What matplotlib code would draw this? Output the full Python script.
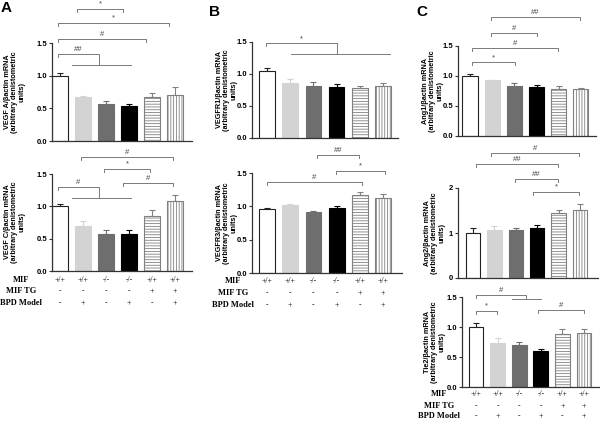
import matplotlib
matplotlib.use("Agg")
import matplotlib.pyplot as plt
import matplotlib.transforms as mtransforms

plt.rcParams['font.family'] = ['Liberation Sans', 'DejaVu Sans']
plt.rcParams['hatch.linewidth'] = 0.6

# ---- data ----
vegfa = [1.00, 0.67, 0.57, 0.53, 0.68, 0.71]
vegfa_err = [0.04, 0.02, 0.04, 0.04, 0.06, 0.11]
vegfc = [1.00, 0.70, 0.57, 0.57, 0.85, 1.09]
vegfc_err = [0.04, 0.08, 0.07, 0.06, 0.09, 0.09]
vegfr1 = [1.04, 0.86, 0.82, 0.79, 0.78, 0.81]
vegfr1_err = [0.05, 0.06, 0.05, 0.05, 0.04, 0.05]
vegfr3 = [0.96, 1.02, 0.91, 0.97, 1.17, 1.13]
vegfr3_err = [0.02, 0.01, 0.02, 0.04, 0.05, 0.06]
ang1 = [1.00, 0.93, 0.84, 0.81, 0.79, 0.78]
ang1_err = [0.03, 0.01, 0.04, 0.04, 0.04, 0.02]
ang2 = [1.00, 1.07, 1.06, 1.12, 1.45, 1.50]
ang2_err = [0.10, 0.08, 0.05, 0.06, 0.05, 0.14]
tie2 = [1.00, 0.74, 0.70, 0.60, 0.89, 0.90]
tie2_err = [0.07, 0.07, 0.05, 0.03, 0.08, 0.06]

mif = ['+/+', '+/+', '-/-', '-/-', '+/+', '+/+']
mif_tg = ['-', '-', '-', '-', '+', '+']
bpd = ['-', '+', '-', '+', '-', '+']
row_names = ['MIF', 'MIF TG', 'BPD Model']

# significance brackets: (label, x1, x2, y)
br_vegfa = [('*', 0.74, 2.74, 2.02), ('*', -0.09, 4.74, 1.81), ('#', -0.09, 3.74, 1.56)]
grp_vegfa = [('##', -0.09, 1.7, 1.33, 1.16, 0.52, 3.1)]
br_vegfc = [('#', 0.91, 4.91, 1.76), ('*', 1.91, 3.91, 1.58), ('#', 2.74, 4.91, 1.36)]
grp_vegfc = [('#', -0.09, 1.7, 1.30, 1.13, 0.52, 3.1)]
br_vegfr1 = []
grp_vegfr1 = [('*', -0.04, 3.0, 1.48, 1.31, 1.03, 5.3)]
br_vegfr3 = [('##', 2.16, 3.97, 1.77), ('*', 2.97, 5.09, 1.53), ('#', 0.0, 4.09, 1.36)]
br_ang1 = [('##', 0.95, 4.95, 1.98), ('#', 0.95, 3.0, 1.72), ('#', 0.09, 3.96, 1.47), ('*', 0.09, 2.03, 1.23)]
br_ang2 = [('#', 0.84, 4.95, 2.78), ('##', 0.14, 3.97, 2.53), ('##', 1.96, 3.97, 2.2), ('*', 2.8, 4.95, 1.91)]
br_tie2 = [('*', 0.0, 0.97, 1.27), ('#', 2.87, 5.0, 1.28)]
grp_tie2 = [('#', 0.0, 2.3, 1.53, 1.47, 1.67, 3.0)]

# ---- styling ----
FILL = ['white', '#d3d3d3', '#6e6e6e', 'black', 'white', 'white']
EDGE = ['#222222', '#d3d3d3', '#6e6e6e', 'black', '#808080', '#808080']
HATCH = [None, None, None, None, '------', '||||||']
BR_COLOR = '#7a7a7a'

W, H = 600, 421
fig = plt.figure(figsize=(6, 4.21), dpi=100)


def px_axes(l, t, r, b):
    return fig.add_axes([l / W, 1 - b / H, (r - l) / W, (b - t) / H])


def panel(box, xlim, ylim, yticks, yfmt, vals, errs, ylabel, ylab_xy,
          brackets=(), groups=()):
    ax = px_axes(*box)
    l, t, r, b = box
    for i, (v, e) in enumerate(zip(vals, errs)):
        ax.bar(i, v, width=0.68, color=FILL[i], edgecolor=EDGE[i],
               hatch=HATCH[i], linewidth=0.8, zorder=2)
        ax.errorbar(i, v, yerr=[[0], [e]], fmt='none', ecolor=EDGE[i],
                    elinewidth=0.8, capsize=2.2, capthick=0.8, zorder=1)
    ax.set_xlim(*xlim)
    ax.set_ylim(*ylim)
    ax.set_xticks([])
    ax.set_yticks(yticks)
    ax.set_yticklabels([yfmt.format(y) for y in yticks])
    for lab in ax.get_yticklabels():
        lab.set_fontweight('bold')
    ax.tick_params(axis='y', length=2.5, width=0.8, labelsize=5.5, pad=1,
                   color='#333333')
    for s in ['top', 'right']:
        ax.spines[s].set_visible(False)
    for s in ['left', 'bottom']:
        ax.spines[s].set_linewidth(0.9)
        ax.spines[s].set_color('#333333')

    unit = (ylim[1] - ylim[0]) / (b - t)  # data per pixel
    leg = 3 * unit
    kw = dict(color=BR_COLOR, lw=0.7, clip_on=False)
    for lab, x1, x2, y in brackets:
        ax.plot([x1, x1, x2, x2], [y - leg, y, y, y - leg], **kw)
        ax.text((x1 + x2) / 2, y + 1.2 * unit, lab, ha='center', va='bottom',
                fontsize=5.5, color='#444444', clip_on=False)
    for lab, x1, xm, yt, yl, xa, xb in groups:
        ax.plot([x1, x1, xm, xm], [yt - leg, yt, yt, yl], **kw)
        ax.plot([xa, xb], [yl, yl], **kw)
        ax.text((x1 + xm) / 2, yt + 1.2 * unit, lab, ha='center', va='bottom',
                fontsize=5.5, color='#444444', clip_on=False)

    fig.text(ylab_xy[0] / W, 1 - ylab_xy[1] / H,
             ylabel + '\n(arbitrary denistometric\nunits)',
             rotation=90, ha='center', va='center', ma='center',
             fontsize=5.2, fontweight='bold', linespacing=1.05)
    return ax


def conditions(ax, name_x, rows_y):
    tr = mtransforms.blended_transform_factory(ax.transData, fig.transFigure)
    for name, vals, y in zip(row_names, [mif, mif_tg, bpd], rows_y):
        fy = 1 - y / H
        fig.text(name_x / W, fy, name, ha='center', va='center',
                 fontsize=6, fontweight='bold', family='Liberation Serif')
        for i, s in enumerate(vals):
            ax.text(i, fy, s, transform=tr, ha='center', va='center',
                    fontsize=5.5, family='Liberation Serif')


t15 = [0, 0.5, 1.0, 1.5]

# Panel A
panel((52, 43, 192, 141), (-0.35, 5.74), (0, 1.5), t15, '{:.1f}',
      vegfa, vegfa_err, 'VEGF A/βactin mRNA', (15, 92), br_vegfa, grp_vegfa)
axA2 = panel((52, 174, 192, 271), (-0.35, 5.74), (0, 1.5), t15, '{:.1f}',
             vegfc, vegfc_err, 'VEGF C/βactin mRNA', (15, 222), br_vegfc, grp_vegfc)
conditions(axA2, 21, [280, 291, 303])

# Panel B
panel((252, 42, 398, 138), (-0.65, 5.65), (0, 1.5), t15, '{:.1f}',
      vegfr1, vegfr1_err, 'VEGFR1/βactin mRNA', (227, 90), br_vegfr1, grp_vegfr1)
axB2 = panel((252, 173, 402, 273), (-0.65, 5.82), (0, 1.5), t15, '{:.1f}',
             vegfr3, vegfr3_err, 'VEGFR3/βactin mRNA', (227, 223), br_vegfr3)
conditions(axB2, 233, [281, 293, 305])

# Panel C
panel((458, 46, 596, 136), (-0.54, 5.68), (0, 1.5), t15, '{:.1f}',
      ang1, ang1_err, 'Ang1/βactin mRNA', (433, 91), br_ang1)
panel((458, 188, 598, 278), (-0.7, 5.84), (0, 2), [0, 1, 2], '{:.0f}',
      ang2, ang2_err, 'Ang2/βactin mRNA', (435, 233), br_ang2)
axC3 = panel((462, 297, 600, 387), (-0.65, 5.74), (0, 1.5), t15, '{:.1f}',
             tie2, tie2_err, 'Tie2/βactin mRNA', (435, 342), br_tie2, grp_tie2)
conditions(axC3, 439, [394, 406, 416])

for letter, x, y in [('A', 6, 8), ('B', 214, 12), ('C', 422, 12)]:
    fig.text(x / W, 1 - y / H, letter, ha='center', va='center',
             fontsize=11, fontweight='bold')

fig.savefig('out.png', dpi=100)
